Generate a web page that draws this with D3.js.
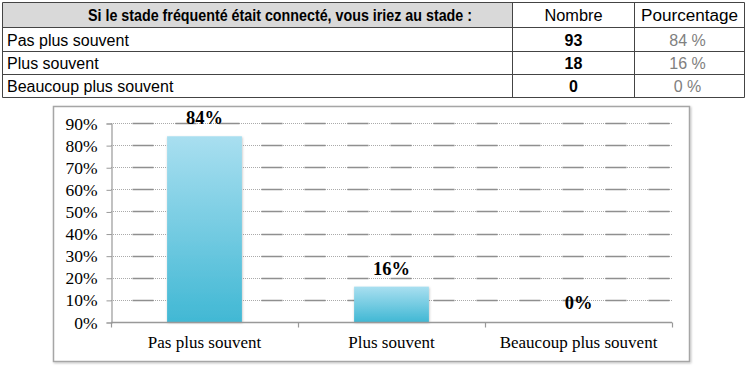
<!DOCTYPE html>
<html><head><meta charset="utf-8">
<script src="https://cdn.jsdelivr.net/npm/d3@7"></script>
<style>
html,body{margin:0;padding:0;background:#fff;}
svg{display:block;}
</style></head>
<body>
<svg id="c" width="750" height="366"></svg>
<script>
const tableTitle = "Si le stade fréquenté était connecté, vous iriez au stade :";
const tableHeaders = ["Nombre", "Pourcentage"];
const categories = ["Pas plus souvent", "Plus souvent", "Beaucoup plus souvent"];
const counts = [93, 18, 0];
const percents = [84, 16, 0];
const yTicks = [0, 10, 20, 30, 40, 50, 60, 70, 80, 90];

const svg = d3.select("#c");

// ---- Table ----
const colX = [2.5, 512.5, 634.5, 744.5];
const rowY = [2.5, 27.5, 51.5, 74.5, 97.5];
const tg = svg.append("g");
tg.append("rect").attr("x", colX[0]).attr("y", rowY[0]).attr("width", colX[1]-colX[0]).attr("height", rowY[1]-rowY[0]).attr("fill", "#d9d9d9");
rowY.forEach(y => tg.append("line").attr("x1", colX[0]).attr("x2", colX[3]).attr("y1", y).attr("y2", y).attr("stroke", "#444").attr("stroke-width", 1));
colX.forEach(x => tg.append("line").attr("x1", x).attr("x2", x).attr("y1", rowY[0]).attr("y2", rowY[4]).attr("stroke", "#444").attr("stroke-width", 1));
const tf = "Arial, 'Liberation Sans', sans-serif";
tg.append("text").attr("x", 88).attr("y", 21)
  .attr("font-family", tf).attr("font-size", 16).attr("font-weight", "bold").attr("fill", "#000")
  .attr("textLength", 384).attr("lengthAdjust", "spacingAndGlyphs").text(tableTitle);
const hdrW = [58, 97];
tableHeaders.forEach((h, i) => tg.append("text").attr("x", (colX[i+1]+colX[i+2])/2 - hdrW[i]/2).attr("y", 21)
  .attr("font-family", tf).attr("font-size", 16).attr("fill", "#000")
  .attr("textLength", hdrW[i]).attr("lengthAdjust", "spacingAndGlyphs").text(h));
categories.forEach((c, i) => {
  const yb = rowY[i+2] - 6;
  tg.append("text").attr("x", 7).attr("y", yb).attr("font-family", tf).attr("font-size", 16).attr("fill", "#000").text(c);
  tg.append("text").attr("x", (colX[1]+colX[2])/2).attr("y", yb).attr("text-anchor", "middle").attr("font-family", tf).attr("font-size", 16).attr("font-weight", "bold").attr("fill", "#000").text(counts[i]);
  tg.append("text").attr("x", (colX[2]+colX[3])/2 - 2).attr("y", yb).attr("text-anchor", "middle").attr("font-family", tf).attr("font-size", 16).attr("fill", "#808080").text(percents[i] + " %");
});

// ---- Chart ----
const box = {x: 53.5, y: 106.5, w: 636, h: 255};
const defs = svg.append("defs");
const f = defs.append("filter").attr("id", "sh").attr("x", "-5%").attr("y", "-5%").attr("width", "110%").attr("height", "110%");
f.append("feDropShadow").attr("dx", 1).attr("dy", 1).attr("stdDeviation", 0.8).attr("flood-color", "#000").attr("flood-opacity", 0.25);
svg.append("rect").attr("x", box.x).attr("y", box.y).attr("width", box.w).attr("height", box.h)
  .attr("fill", "#fff").attr("stroke", "#a6a6a6").attr("stroke-width", 1.5).attr("filter", "url(#sh)");

const grad = defs.append("linearGradient").attr("id", "bg").attr("x1", 0).attr("y1", 0).attr("x2", 0).attr("y2", 1);
grad.append("stop").attr("offset", "0%").attr("stop-color", "#a9dff0");
grad.append("stop").attr("offset", "100%").attr("stop-color", "#41b8d4");
const bsh = defs.append("filter").attr("id", "bsh").attr("x", "-10%").attr("y", "-10%").attr("width", "120%").attr("height", "120%");
bsh.append("feDropShadow").attr("dx", 0.5).attr("dy", 1).attr("stdDeviation", 0.8).attr("flood-color", "#000").attr("flood-opacity", 0.25);

const plot = {l: 111, r: 672, t: 123, b: 322};
const x = d3.scaleBand().domain(categories).range([plot.l, plot.r]).paddingInner(0.6).paddingOuter(0.3);
const y = d3.scaleLinear().domain([0, 90]).range([plot.b, plot.t]);
const serif = "'Liberation Serif', 'Times New Roman', serif";

// gridlines
const gg = svg.append("g");
yTicks.filter(t => t > 0).forEach(t => {
  gg.append("line").attr("x1", plot.l).attr("x2", plot.r).attr("y1", Math.round(y(t))+0.5).attr("y2", Math.round(y(t))+0.5)
    .attr("stroke", "#aaa").attr("stroke-width", 1).attr("stroke-dasharray", "1,1");
  gg.append("line").attr("x1", plot.l + 21.5).attr("x2", plot.r).attr("y1", Math.round(y(t))+0.5).attr("y2", Math.round(y(t))+0.5)
    .attr("stroke", "#8f8f8f").attr("stroke-width", 1.3).attr("stroke-dasharray", "21,22");
});

// bars
svg.append("g").selectAll("rect").data(categories).join("rect")
  .attr("x", d => x(d)).attr("width", x.bandwidth())
  .attr("y", (d, i) => y(percents[i])).attr("height", (d, i) => y(0) - y(percents[i]))
  .attr("fill", "url(#bg)").attr("filter", "url(#bsh)");

// data labels
svg.append("g").selectAll("text").data(categories).join("text")
  .attr("x", d => x(d) + x.bandwidth()/2)
  .attr("y", (d, i) => percents[i] === 0 ? y(0) - 13 : y(percents[i]) - 12)
  .attr("text-anchor", "middle").attr("font-family", serif).attr("font-size", 18.5).attr("font-weight", "bold").attr("fill", "#000")
  .text((d, i) => percents[i] + "%");

// y axis
const yAxis = d3.axisLeft(y).tickValues(yTicks).tickFormat(d => d + "%").tickSize(5).tickPadding(9);
const ya = svg.append("g").attr("transform", `translate(${plot.l + 0.5},0.5)`).call(yAxis);
ya.select(".domain").attr("stroke", "#999").attr("stroke-width", 1.2);
ya.selectAll(".tick line").attr("stroke", "#999");
ya.selectAll("text").attr("font-family", serif).attr("font-size", 17.5).attr("fill", "#000");

// x axis
const xAxis = d3.axisBottom(x).tickSize(0).tickPadding(13);
const xa = svg.append("g").attr("transform", `translate(0,${plot.b + 0.5})`).call(xAxis);
xa.select(".domain").attr("stroke", "#999").attr("stroke-width", 1.5).attr("d", `M${plot.l},0H${plot.r}`);
xa.selectAll("text").attr("font-family", serif).attr("font-size", 17).attr("fill", "#000");
const boundaries = [plot.l, plot.l + (plot.r - plot.l)/3, plot.l + 2*(plot.r - plot.l)/3, plot.r];
xa.selectAll(".bt").data(boundaries).join("line").attr("class", "bt")
  .attr("x1", d => d + 0.5).attr("x2", d => d + 0.5).attr("y1", 0).attr("y2", 5).attr("stroke", "#999").attr("stroke-width", 1.2);
</script>
</body></html>
